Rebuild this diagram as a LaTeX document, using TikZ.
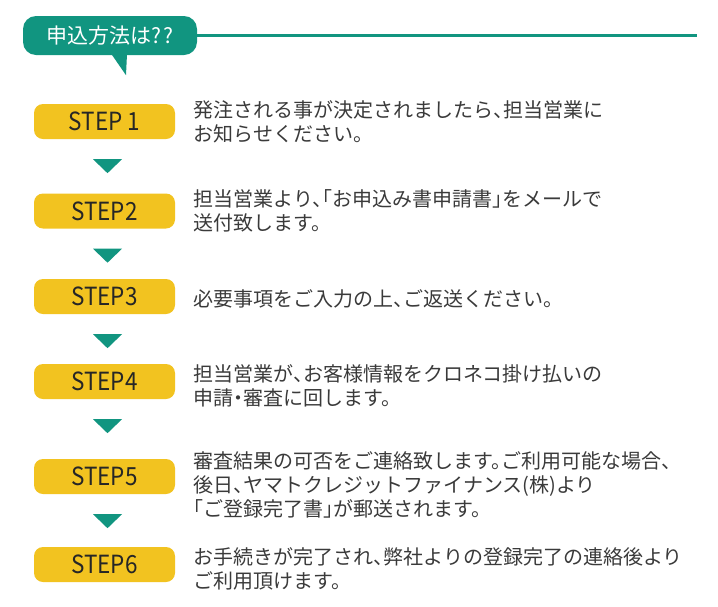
\documentclass[tikz,border=0pt]{standalone}
\usepackage{fontspec}
\setmainfont{Noto Sans CJK JP}[RawFeature=+halt]
\newfontfamily\stepfont{Noto Sans CJK JP}[FakeStretch=0.9]
\usetikzlibrary{positioning}

\definecolor{stepgreen}{HTML}{119580}
\definecolor{stepyellow}{HTML}{F2C320}
\definecolor{bodygray}{HTML}{3A3A3A}

\begin{document}
\begin{tikzpicture}[x=1pt,y=-1pt,node distance=18pt,
        stepbox/.style={fill=stepyellow, rounded corners=9pt, minimum width=141pt,
            minimum height=35pt, inner sep=0pt, text=black!85,
            font=\stepfont\fontsize{25pt}{25pt}\selectfont},
        stepnote/.style={align=left, inner sep=0pt, text=bodygray,
            font=\fontsize{20pt}{24pt}\selectfont}]
            \tikzstyle{titlebox}=[fill=stepgreen, rounded corners=13pt, minimum width=174pt,
                minimum height=39pt, inner sep=0pt, text=white,
                font=\fontsize{21pt}{21pt}\selectfont]

            \useasboundingbox (0,0) rectangle (718,606);

            % header
            \node[titlebox] (title) at (110,35.5) {申込方法は?\kern2pt?};
            \fill[stepgreen] ([xshift=1.5pt,yshift=1pt]title.south)
                -- ([xshift=17pt,yshift=1pt]title.south)
                -- ([xshift=16pt,yshift=-20pt]title.south) -- cycle;
            \coordinate (lineend) at (697,35.5);
            \draw[stepgreen, line width=2.5pt] (title.east) -- (lineend);

            % steps
            \node[stepbox] (s1) at (104.5,121.5) {STEP 1};
            \node[stepbox] (s2) at (104.5,211)   {STEP2};
            \node[stepbox] (s3) at (104.5,296.5) {STEP3};
            \node[stepbox] (s4) at (104.5,381.5) {STEP4};
            \node[stepbox] (s5) at (104.5,476.5) {STEP5};
            \node[stepbox] (s6) at (104.5,564.5) {STEP6};

            \node[stepnote] (n1) [right=of s1]
                {発注される事が決定されましたら、担当営業に\\お知らせください。};
            \node[stepnote] (n2) [right=of s2]
                {担当営業より、「お申込み書申請書」をメールで\\送付致します。};
            \node[stepnote] (n3) [right=of s3, yshift=-2.5pt]
                {必要事項をご入力の上、ご返送ください。};
            \node[stepnote] (n4) [right=of s4, yshift=-4pt]
                {担当営業が、お客様情報をクロネコ掛け払いの\\申請・審査に回します。};
            \node[stepnote] (n5) [right=of s5, yshift=-8pt]
                {審査結果の可否をご連絡致します。ご利用可能な場合、\\後日、ヤマトクレジットファイナンス(株)より\\「ご登録完了書」が郵送されます。};
            \node[stepnote] (n6) [right=of s6, yshift=-4.5pt]
                {お手続きが完了され、弊社よりの登録完了の連絡後より\\ご利用頂けます。};

            % down markers
            \foreach \i in {1,...,5}
                \fill[stepgreen] ([xshift=-11.5pt,yshift=-20pt]s\i.south)
                    -- ++(29pt,0pt) -- ++(-14.5pt,-14pt) -- cycle;
\end{tikzpicture}
\end{document}
